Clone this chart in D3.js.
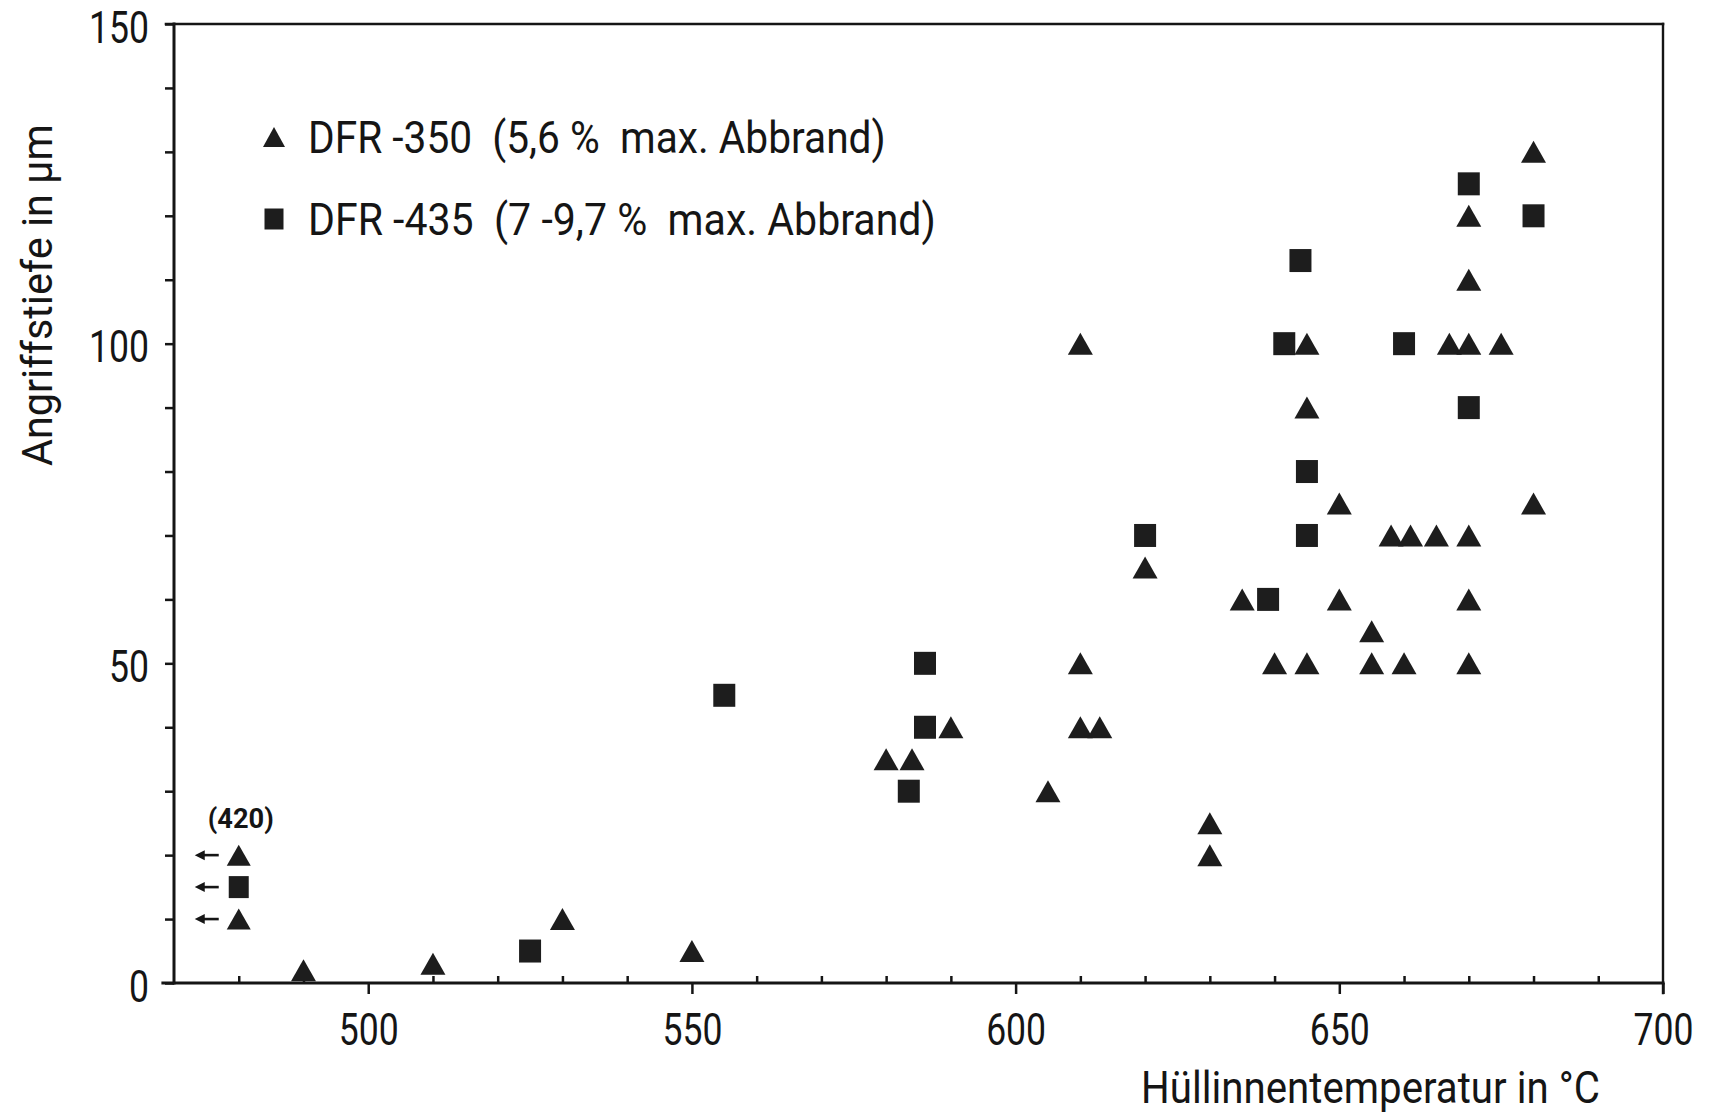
<!DOCTYPE html>
<html>
<head>
<meta charset="utf-8">
<script src="https://cdn.jsdelivr.net/npm/d3@7"></script>
<style>
  html, body { margin: 0; padding: 0; background: #fff; }
  svg { display: block; }
  text { font-family: Roboto, "DejaVu Sans", sans-serif; fill: #151515; white-space: pre; }
</style>
</head>
<body>
<svg id="chart" width="1716" height="1112"></svg>
<script>
// DFR-350 cladding samples: [inner cladding temperature °C, attack depth µm]
const dfr350 = [
  [490, 2], [510, 3], [530, 10], [550, 5],
  [580, 35], [584, 35], [590, 40], [605, 30],
  [610, 100], [610, 50], [610, 40], [613, 40], [620, 65],
  [630, 25], [630, 20], [635, 60], [640, 50],
  [645, 100], [645, 90], [645, 50], [650, 75], [650, 60],
  [655, 55], [655, 50], [660, 50], [658, 70], [661, 70], [665, 70],
  [667, 100], [670, 100], [670, 110], [670, 120], [670, 70], [670, 60], [670, 50],
  [675, 100], [680, 130], [680, 75]
];

// DFR-435 cladding samples: [inner cladding temperature °C, attack depth µm]
const dfr435 = [
  [525, 5], [555, 45], [583.5, 30], [586, 50], [586, 40],
  [620, 70], [639, 60], [641.5, 100], [644, 113], [645, 80], [645, 70],
  [660, 100], [670, 125], [670, 90], [680, 120]
];

// Samples taken at 420 °C lie off the scale; they are shown in a side column with arrows
const pinsTemp = 420;
const pins420 = [
  { series: "DFR-350", depth: 20 },
  { series: "DFR-435", depth: 15 },
  { series: "DFR-350", depth: 10 }
];

const xMajorTicks = [500, 550, 600, 650, 700];
const xMinorTicks = [480, 490, 510, 520, 530, 540, 560, 570, 580, 590, 610, 620, 630, 640, 660, 670, 680, 690];
const yTickLabels = [0, 50, 100, 150];
const yMinorTicks = d3.range(0, 151, 10);

const legendLabels = [
  "DFR -350  (5,6 %  max. Abbrand)",
  "DFR -435  (7 -9,7 %  max. Abbrand)"
];
const xTitle = "Hüllinnentemperatur in °C";
const yTitle = "Angriffstiefe in µm";
const pinsLabel = "(" + pinsTemp + ")";

// ---- layout ----
const svg = d3.select("#chart");
const x = d3.scaleLinear().domain([470, 700]).range([174, 1663]);
const y = d3.scaleLinear().domain([0, 150]).range([983, 24]);
const ink = "#151515";
const markFill = "#1d1d1d";
const pinColumnTemp = 480;   // where the off-scale column is drawn
const digitSqueeze = 0.79;   // narrow lettering for numerals

// squeeze a text horizontally to a given width (stencil lettering is narrow)
function fitWidth(sel, width) {
  sel.each(function () {
    const len = this.getComputedTextLength();
    const base = this.getAttribute("data-base") || "";
    this.setAttribute("transform", base + ` scale(${width / len},1)`);
  });
}

const triPath = (w, h) => `M0,${-h / 2}L${w / 2},${h / 2}L${-w / 2},${h / 2}Z`;
const sqPath = (w, h) => `M${-w / 2},${-h / 2}h${w}v${h}h${-w}Z`;

// ---- axes: ticks ----
const gx = svg.append("g").attr("transform", `translate(0,${y(0)})`);
gx.append("g")
  .call(d3.axisBottom(x).tickValues(xMinorTicks).tickSize(-7).tickFormat(""))
  .call(g => g.select(".domain").remove());
gx.append("g")
  .call(d3.axisBottom(x).tickValues(xMajorTicks).tickSize(11).tickPadding(19).tickFormat(d3.format("d")))
  .call(g => g.select(".domain").remove())
  .call(g => g.selectAll("text")
    .attr("font-size", 45).attr("font-family", null).attr("fill", ink)
    .attr("transform", `scale(${digitSqueeze},1)`));
gx.selectAll("line").attr("stroke", ink).attr("stroke-width", 2.5);

const gy = svg.append("g").attr("transform", `translate(${x(470)},0)`);
gy.append("g")
  .call(d3.axisLeft(y).tickValues(yMinorTicks).tickSize(9).tickFormat(""))
  .call(g => g.select(".domain").remove());
gy.append("g")
  .call(d3.axisLeft(y).tickValues(yTickLabels).tickSize(0).tickPadding(0).tickFormat(d3.format("d")))
  .call(g => g.select(".domain").remove())
  .call(g => g.selectAll("text")
    .attr("font-size", 45).attr("font-family", null).attr("fill", ink)
    .attr("x", 0).attr("dy", "0.4em")
    .attr("transform", `translate(-25,0) scale(${digitSqueeze},1)`));
gy.selectAll("line").attr("stroke", ink).attr("stroke-width", 2.5);

// ---- axis lines and frame ----
const frame = svg.append("g").attr("stroke", ink).attr("fill", "none").attr("stroke-linecap", "square");
frame.append("line").attr("x1", x(470) - 11).attr("x2", x(700)).attr("y1", y(0)).attr("y2", y(0)).attr("stroke-width", 3.2);
frame.append("line").attr("x1", x(470)).attr("x2", x(470)).attr("y1", y(0)).attr("y2", y(150)).attr("stroke-width", 3);
frame.append("line").attr("x1", x(470) - 8).attr("x2", x(700)).attr("y1", y(150)).attr("y2", y(150)).attr("stroke-width", 2.6);
frame.append("line").attr("x1", x(700)).attr("x2", x(700)).attr("y1", y(150)).attr("y2", y(0) + 10).attr("stroke-width", 2.4);

// ---- data marks ----
const marks = svg.append("g").attr("fill", markFill);
marks.selectAll("path.tri").data(dfr350).join("path")
  .attr("class", "tri")
  .attr("d", triPath(25, 22))
  .attr("transform", d => `translate(${x(d[0])},${y(d[1])})`);
marks.selectAll("path.sq").data(dfr435).join("path")
  .attr("class", "sq")
  .attr("d", sqPath(22, 23))
  .attr("transform", d => `translate(${x(d[0])},${y(d[1])})`);

// ---- off-scale column (420 °C) ----
const pins = svg.append("g");
pins.selectAll("path.pin").data(pins420).join("path")
  .attr("class", "pin")
  .attr("fill", markFill)
  .attr("d", d => d.series === "DFR-350" ? triPath(24, 21) : sqPath(20, 22))
  .attr("transform", d => `translate(${x(pinColumnTemp)},${y(d.depth)})`);
const arrows = pins.selectAll("g.arrow").data(pins420).join("g")
  .attr("class", "arrow")
  .attr("transform", d => `translate(${x(pinColumnTemp) - 44},${y(d.depth)})`);
arrows.append("line").attr("x1", 6).attr("x2", 24).attr("y1", 0).attr("y2", 0)
  .attr("stroke", ink).attr("stroke-width", 2.6);
arrows.append("path").attr("d", "M0,0L10,-5L10,5Z").attr("fill", ink);
pins.append("text")
  .attr("x", 0).attr("y", 0)
  .attr("data-base", `translate(${x(pinColumnTemp) - 31},${y(24.3)})`)
  .attr("font-size", 27).attr("font-weight", 700)
  .text(pinsLabel)
  .call(fitWidth, 66);

// ---- legend ----
const legend = svg.append("g");
const legendRows = [
  { shape: triPath(22, 20), cy: 137, label: legendLabels[0], width: 578 },
  { shape: sqPath(19, 21), cy: 219, label: legendLabels[1], width: 628 }
];
legendRows.forEach(r => {
  legend.append("path").attr("d", r.shape).attr("fill", markFill)
    .attr("transform", `translate(274,${r.cy})`);
  legend.append("text")
    .attr("data-base", `translate(308,${r.cy + 15.5})`)
    .attr("font-size", 44)
    .text(r.label)
    .call(fitWidth, r.width);
});

// ---- axis titles ----
svg.append("text")
  .attr("data-base", "translate(1141,1103)")
  .attr("font-size", 44)
  .text(xTitle)
  .call(fitWidth, 459);
svg.append("text")
  .attr("data-base", "translate(52,466) rotate(-90)")
  .attr("font-size", 43)
  .text(yTitle)
  .call(fitWidth, 342);
</script>
</body>
</html>
